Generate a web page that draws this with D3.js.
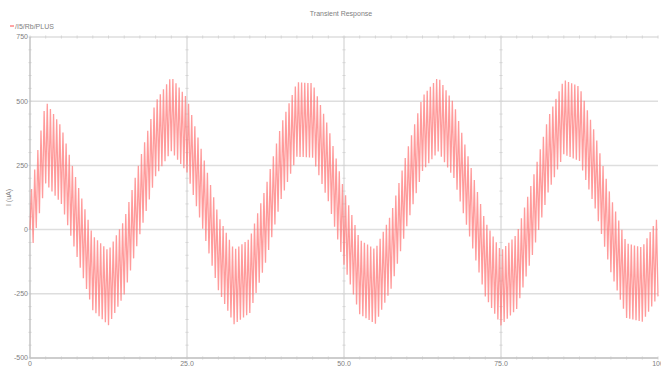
<!DOCTYPE html>
<html>
<head>
<meta charset="utf-8">
<script src="https://cdn.jsdelivr.net/npm/d3@7"></script>
<style>
  html, body { margin: 0; padding: 0; background: #fff; }
  svg { display: block; font-family: "Liberation Sans", Arial, sans-serif; }
</style>
</head>
<body>
<svg id="chart" width="661" height="366"></svg>
<script>
// Sample times (µs) for the band edges
const envTimes = d3.range(0, 100.01, 2.5);
// Upper edge of the switching ripple, µA
const upperEnv = [120, 500, 400, 183, -24, -82, 37, 272, 498, 595,
                  512, 293, 54, -79, -35, 162, 409, 574, 570, 400,
                  153, -40, -77, 60, 303, 518, 594, 491, 263, 30,
                  -83, -19, 191, 435, 583, 557, 372, 124, -54, -69, 50];
// Lower edge of the switching ripple, µA
const lowerEnv = [-110, 180, 100, -107, -314, -372, -253, -18, 208, 305,
                  222, 3, -236, -369, -325, -129, 119, 284, 280, 110,
                  -137, -330, -367, -230, 13, 228, 304, 201, -27, -260,
                  -373, -309, -99, 145, 293, 267, 82, -166, -344, -359, -260];
// Half period of the switching ripple, µs
const rippleHalf = 0.25;

const xTicks = [0, 25, 50, 75, 100];
const xTickLabels = ["0", "25.0", "50.0", "75.0", "100"];
const yTicks = [-500, -250, 0, 250, 500, 750];
const yTickLabels = ["-500", "-250", "0", "250", "500", "750"];

const W = 661, H = 366;
const margin = { top: 37, right: 3, bottom: 8, left: 30 };
const svg = d3.select("#chart");

const x = d3.scaleLinear().domain([0, 100]).range([margin.left, W - margin.right]);
const y = d3.scaleLinear().domain([-500, 750]).range([H - margin.bottom, margin.top]);

const gridColor = "#dedede";
const axisColor = "#c4c4c4";
const tickColor = "#d4d4d4";
const textColor = "#808080";

// Horizontal and vertical grid lines
svg.append("g").selectAll("line").data(yTicks).join("line")
  .attr("x1", x(0)).attr("x2", x(100))
  .attr("y1", d => y(d)).attr("y2", d => y(d))
  .attr("stroke", gridColor).attr("stroke-width", 1.5);
svg.append("g").selectAll("line").data(xTicks.slice(1, -1)).join("line")
  .attr("x1", d => x(d)).attr("x2", d => x(d))
  .attr("y1", y(-500)).attr("y2", y(750))
  .attr("stroke", gridColor).attr("stroke-width", 1.5);

// Minor ticks along the top and bottom lines
const xMinor = d3.range(0, 100.01, 2.5);
[-500, 750].forEach(v => {
  svg.append("g").selectAll("line").data(xMinor).join("line")
    .attr("x1", d => x(d)).attr("x2", d => x(d))
    .attr("y1", y(v) - 1.5).attr("y2", y(v) + 1.5)
    .attr("stroke", tickColor).attr("stroke-width", 1);
});
// Minor ticks along the left axis and vertical grid lines
const yMinor = d3.range(-500, 750.01, 50);
[0, 25, 50, 75].forEach(v => {
  svg.append("g").selectAll("line").data(yMinor).join("line")
    .attr("x1", x(v) - 1.5).attr("x2", x(v) + 1.5)
    .attr("y1", d => y(d)).attr("y2", d => y(d))
    .attr("stroke", tickColor).attr("stroke-width", 1);
});

// Axis lines
svg.append("line").attr("x1", x(0)).attr("x2", x(0))
  .attr("y1", y(-500)).attr("y2", y(750))
  .attr("stroke", axisColor).attr("stroke-width", 1.5);
svg.append("line").attr("x1", x(0)).attr("x2", x(100))
  .attr("y1", y(-500)).attr("y2", y(-500))
  .attr("stroke", axisColor).attr("stroke-width", 1.5);

// Tick labels
svg.append("g").selectAll("text").data(yTicks).join("text")
  .attr("x", x(0) - 2).attr("y", d => y(d)).attr("dy", "0.35em")
  .attr("text-anchor", "end").attr("font-size", 7).attr("fill", textColor)
  .text((d, i) => yTickLabels[i]);
svg.append("g").selectAll("text").data(xTicks).join("text")
  .attr("x", d => x(d)).attr("y", y(-500) + 8)
  .attr("text-anchor", "middle").attr("font-size", 7).attr("fill", textColor)
  .text((d, i) => xTickLabels[i]);

// Title, axis label, legend
svg.append("text").attr("x", 341).attr("y", 16).attr("text-anchor", "middle")
  .attr("font-size", 7).attr("fill", textColor).text("Transient Response");
svg.append("text").attr("transform", `translate(11,${y(125)}) rotate(-90)`)
  .attr("text-anchor", "middle").attr("font-size", 7).attr("fill", textColor).text("I (uA)");
svg.append("line").attr("x1", 10).attr("x2", 14).attr("y1", 26).attr("y2", 26)
  .attr("stroke", "#ff4a4a").attr("stroke-width", 1);
svg.append("text").attr("x", 15).attr("y", 28.5)
  .attr("font-size", 7).attr("fill", textColor).text("/I5/Rb/PLUS");

// Current waveform: ripple swinging between the two band edges
const upperAt = d3.scaleLinear().domain(envTimes).range(upperEnv);
const lowerAt = d3.scaleLinear().domain(envTimes).range(lowerEnv);
const pts = [[0, 0]];
d3.range(rippleHalf, 100.0001, rippleHalf).forEach((t, i) => {
  pts.push([t, i % 2 === 0 ? upperAt(t) : lowerAt(t)]);
});
const line = d3.line().x(d => x(d[0])).y(d => y(d[1]));
svg.append("path").datum(pts)
  .attr("d", line)
  .attr("fill", "none")
  .attr("stroke", "#ff7070")
  .attr("stroke-opacity", 0.7)
  .attr("stroke-width", 1.3)
  .attr("stroke-linejoin", "bevel");
</script>
</body>
</html>
